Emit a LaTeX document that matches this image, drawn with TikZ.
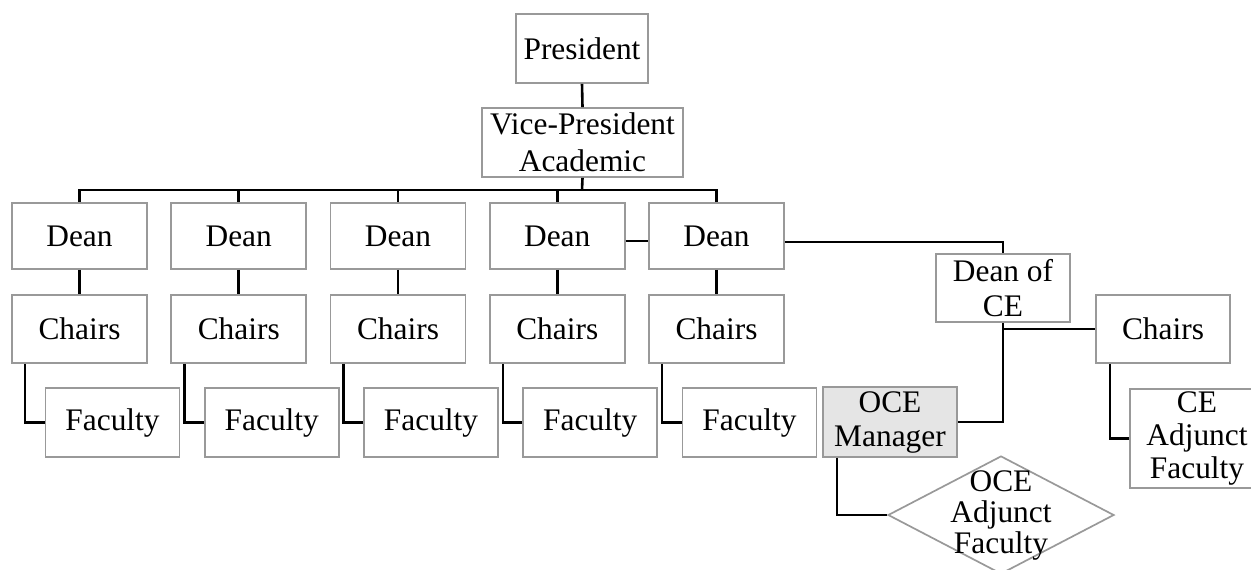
\documentclass[tikz,border=0pt]{standalone}
\usepackage{fontspec}
\setmainfont{Liberation Serif}
\usetikzlibrary{shapes.geometric,calc}

\tikzset{
  box/.style={draw=black!40, line width=0.85pt, inner sep=0pt, align=center,
    font=\fontsize{15.7}{17}\selectfont},
  unit/.style={box, minimum width=67.5pt, minimum height=33.5pt},
  mgr/.style={unit, fill=black!10},
  link/.style={draw=black, line width=1.3pt},
}

\begin{document}
\begin{tikzpicture}[x=0.5pt, y=-0.5pt]
  \useasboundingbox (0,0) rectangle (1251,569);
  \clip (0,0) rectangle (1251,569);

  % top of the hierarchy
  \node[box, minimum width=66pt, minimum height=34.5pt] (pres) at (582,48.5) {President};
  \node[box, minimum width=100.5pt, minimum height=34.5pt,
        font=\fontsize{15.7}{18.5}\selectfont] (vp) at (582.5,142.5) {Vice-President\\Academic};
  \coordinate (bar) at (582,190);

  % faculties: dean, chairs and faculty in each column
  \foreach \i in {1,...,5} {
    \pgfmathsetmacro{\cx}{79.5+159.25*(\i-1)}
    \node[unit, minimum height=33pt] (d\i) at (\cx,236) {Dean};
    \node[unit, minimum height=34pt] (c\i) at (\cx,329) {Chairs};
    \node[unit, minimum width=67pt, minimum height=34.5pt] (f\i) at (\cx+33,422.5) {Faculty};
  }

  % continuing education branch
  \node[unit, minimum width=67pt, minimum height=34pt,
        font=\fontsize{15.7}{17.5}\selectfont] (dce) at (1003,288) {Dean of\\CE};
  \node[unit, minimum width=67pt, minimum height=34pt] (cc) at (1163,329) {Chairs};
  \node[mgr, minimum width=67pt, minimum height=35pt] (oce) at (890,422) {OCE\\Manager};
  \node[unit, minimum width=67pt, minimum height=49.5pt,
        font=\fontsize{15.7}{16.5}\selectfont] (cea) at (1197,438.5) {CE\\Adjunct\\Faculty};
  \node[diamond, draw=black!40, line width=0.85pt, inner sep=0pt,
        minimum width=113pt, minimum height=59pt] (ocea) at (1001,515) {};
  \node[align=center, inner sep=0pt, font=\fontsize{15.7}{15.5}\selectfont]
        (oceat) at (ocea.center) {OCE\\Adjunct\\Faculty};

  % reporting lines
  \draw[link] (pres.south) -- (vp.north);
  \draw[link] (vp.south) -- (bar);
  \foreach \i in {1,...,5} {
    \draw[link] (d\i.north) |- (bar);
    \draw[link] (d\i.south) -- (c\i.north);
    \draw[link] ([xshift=7pt]c\i.south west) |- (f\i.west);
  }
  \draw[link] ([yshift=-2.5pt]d4.east) -- ([yshift=-2.5pt]d5.west);
  \draw[link] ([yshift=-3pt]d5.east) -| (dce.north);
  \draw[link] (dce.south) |- (oce.east);
  \draw[link] (dce.south |- cc.west) -- (cc.west);
  \draw[link] ([xshift=7.5pt]cc.south west) |- (cea.west);
  \draw[link] ([xshift=7.5pt]oce.south west) |- (ocea.west);
\end{tikzpicture}
\end{document}
